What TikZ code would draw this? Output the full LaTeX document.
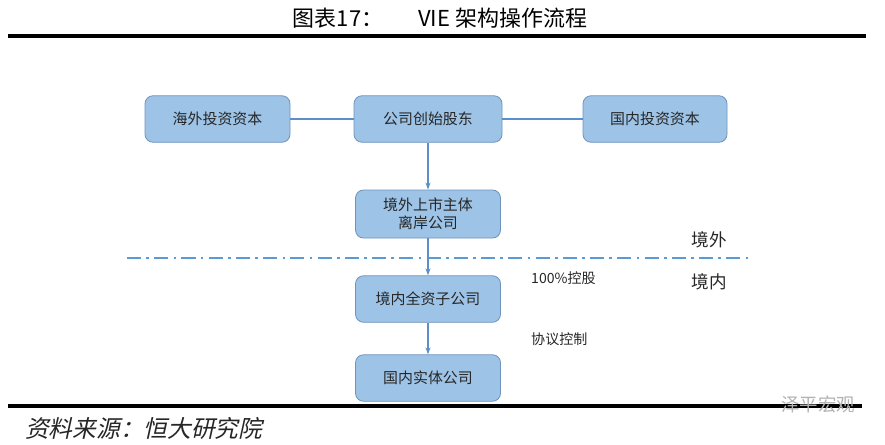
\documentclass[tikz,border=0pt]{standalone}
\usepackage{xcolor}
\usepackage{fontspec}
\usepackage{tikz}
\usetikzlibrary{calc}
\usetikzlibrary{arrows.meta}
\setmainfont{Noto Sans CJK SC}
\newfontfamily\cjkslant[FakeSlant=0.22]{Noto Sans CJK SC}
\definecolor{boxfill}{HTML}{9DC3E6}
\definecolor{boxedge}{HTML}{6F93BD}
\definecolor{linkblue}{HTML}{5B8FC9}
\definecolor{borderblue}{HTML}{5B9BD5}
\begin{document}
\begin{tikzpicture}[
    entity/.style={draw=boxedge, line width=0.016cm, fill=boxfill, rounded corners=0.16cm,
                   minimum width=2.9cm, minimum height=0.93cm, align=center,
                   font=\fontsize{8.5}{10.5}\selectfont, text=black!85},
    link/.style={draw=linkblue, line width=0.028cm},
    flow/.style={link, -{Stealth[length=0.14cm,width=0.1cm]}},
    note/.style={font=\fontsize{8}{10}\selectfont, text=black!85, anchor=west},
    side/.style={font=\fontsize{10}{12}\selectfont, text=black!85}]
            \useasboundingbox (0.000000,0.000000) rectangle (17.700000,8.880000);
            {
            % Marking title
            \draw (8.800000,8.520000) node [font=\fontsize{12.5}{14}\selectfont] (title) {图表17：\hspace{1.6em}VIE 架构操作流程};%

            % Drawing rule above
            \draw [line width=0.07cm] (0.160000,8.160000) -- (17.320000,8.160000);%

            % Marking top row
            \draw (4.350000,6.500000) node [entity] (overseas) {海外投资资本};%
            \draw (8.560000,6.500000) node [entity, minimum width=2.96cm] (founder) {公司创始股东};%
            \draw (13.100000,6.500000) node [entity, minimum width=2.88cm] (domestic) {国内投资资本};%
            \draw [link] (overseas) -- (founder);%
            \draw [link] (founder) -- (domestic);%

            % Marking offshore listed company
            \draw (8.560000,4.600000) node [entity, minimum height=0.96cm] (offshore) {境外上市主体\\离岸公司};%
            \draw [flow] (founder) -- (offshore);%

            % Drawing border line
            \draw [draw=borderblue, line width=0.04cm, dash pattern=on 8pt off 3pt on 1.5pt off 3pt]
                (2.540000,3.720000) -- (14.960000,3.720000);%
            \draw (14.180000,4.080000) node [side] (outside) {境外};%
            \draw (14.180000,3.240000) node [side] (inside) {境内};%

            % Marking WFOE
            \draw (8.560000,2.900000) node [entity] (wfoe) {境内全资子公司};%
            \draw [flow] (offshore) -- (wfoe);%
            \draw (10.500000,3.320000) node [note] (hold) {100\%控股};%

            % Marking operating company
            \draw (8.560000,1.320000) node [entity] (opco) {国内实体公司};%
            \draw [flow] (wfoe) -- (opco);%
            \draw (10.500000,2.100000) node [note] (vie) {协议控制};%

            % Drawing rule below
            \draw [line width=0.07cm] (0.160000,0.760000) -- (17.240000,0.760000);%
            \draw (16.360000,0.800000) node [font=\fontsize{10.5}{12}\selectfont, text=black!30] (mark) {泽平宏观};%

            % Marking source
            \draw (0.380000,0.320000) node [anchor=west, font=\cjkslant\fontsize{13.5}{15}\selectfont, text=black!85] (source) {资料来源：恒大研究院};%
            }
        \end{tikzpicture}
\end{document}
